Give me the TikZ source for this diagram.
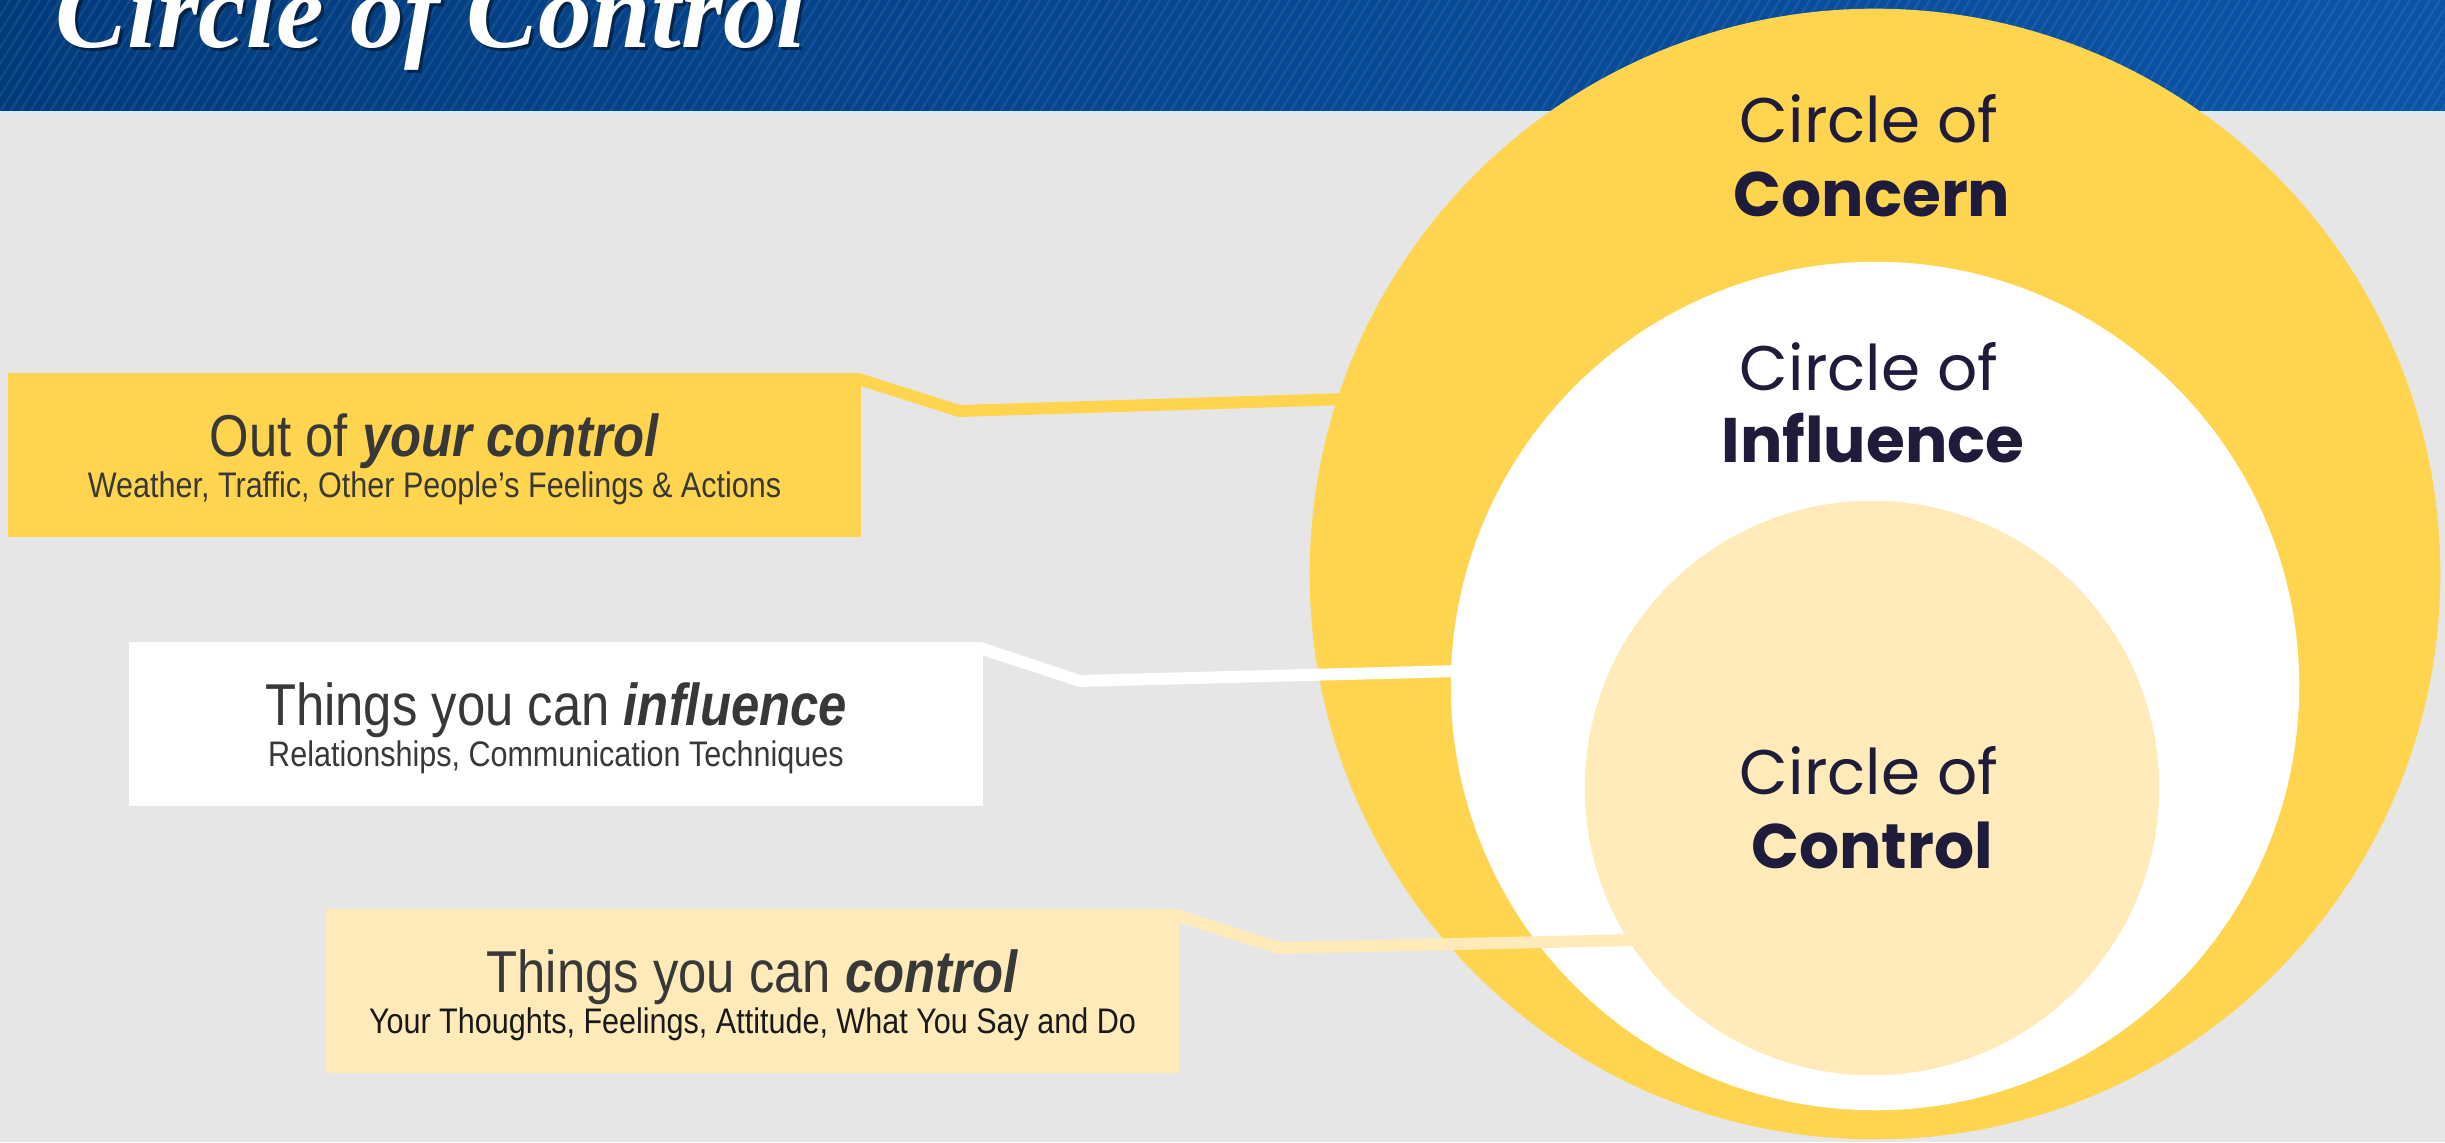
\documentclass[tikz,border=0pt]{standalone}
\usepackage{fontspec}
\setmainfont{Liberation Sans}
\newfontfamily\boxfont[FakeStretch=0.86]{Liberation Sans}
\newfontfamily\ringfont{Poppins}
\newfontfamily\headfont{Liberation Serif}
\usetikzlibrary{positioning}
\definecolor{concernyellow}{HTML}{FFD44F}
\definecolor{controlcream}{HTML}{FFEBBA}
\definecolor{bardark}{HTML}{023B7C}
\definecolor{barlight}{HTML}{0A54A8}
\definecolor{ringink}{HTML}{1E1B3B}
\definecolor{boxink}{HTML}{383838}
\definecolor{backgray}{HTML}{E6E6E6}

\begin{document}
\begin{tikzpicture}[x=0.01cm, y=-0.01cm]
            \tikzset{ring/.style = {shape=circle, inner sep=0pt, outer sep=0pt}}
            \tikzset{ringtop/.style = {anchor=base, inner sep=0pt, text=ringink, font=\ringfont\fontsize{17.9}{20}\selectfont}}
            \tikzset{ringword/.style = {ringtop, font=\ringfont\bfseries\fontsize{17.9}{20}\selectfont}}
            \tikzset{box/.style = {shape=rectangle, minimum width=8.53cm, minimum height=1.64cm, inner sep=0pt, outer sep=0pt}}
            \tikzset{boxhead/.style = {anchor=base, inner sep=0pt, text=boxink, font=\boxfont\fontsize{16.8}{18}\selectfont}}
            \tikzset{boxsub/.style = {anchor=base, inner sep=0pt, text=boxink, font=\boxfont\fontsize{10.1}{12}\selectfont}}
            \tikzset{link/.style = {line width=3.4pt, shorten >=-0.5mm}}
            \tikzset{headline/.style = {anchor=base west, inner sep=0pt, font=\headfont\bfseries\itshape\fontsize{30.5}{34}\selectfont}}
            \useasboundingbox (0,0) rectangle (2445,1142);
            \clip (0,0) rectangle (2445,1142);
            % backdrop
            \fill[backgray] (0,0) rectangle (2445,1142);
            \shade[left color=bardark, right color=barlight] (0,0) rectangle (2445,112);
            \begin{scope}
                \clip (0,0) rectangle (2445,112);
                \foreach \s in {0,10,...,2560}
                    \draw[white, opacity=0.08, line width=0.6pt] (\s-70,112) -- (\s,0);
            \end{scope}
            \draw[white!80!cyan, line width=0.6pt] (0,112) -- (2445,112);
            \node[headline, text=black, opacity=0.45] (titleshade) at (58,50) {Circle of Control};
            \node[headline, text=white] (title) at (55,47) {Circle of Control};
            % circles
            \node[ring, fill=concernyellow, minimum size=11.3cm] (concern) at (1875,574) {};
            \node[ring, fill=white, minimum size=8.48cm] (influence) at (1875,686) {};
            \node[ring, fill=controlcream, minimum size=5.74cm] (control) at (1872,788) {};
            \node[ringtop] (concerntop) at (1869,142) {Circle of};
            \node[ringword] (concernword) at (1872,216) {Concern};
            \node[ringtop] (influencetop) at (1869,390) {Circle of};
            \node[ringword] (influenceword) at (1873,462) {Influence};
            \node[ringtop] (controltop) at (1869,794) {Circle of};
            \node[ringword] (controlword) at (1872,868) {Control};
            % boxes
            \node[box, fill=concernyellow] (outbox) at (434.5,455) {};
            \node[boxhead] (outhead) at ([yshift=-0.1mm]outbox.center) {Out of \textbf{\textit{your control}}};
            \node[boxsub] (outsub) at ([yshift=-4.2mm]outbox.center) {Weather, Traffic, Other People’s Feelings \& Actions};
            \node[box, fill=white] (influencebox) at (556,724) {};
            \node[boxhead] (influencehead) at ([yshift=-0.1mm]influencebox.center) {Things you can \textbf{\textit{influence}}};
            \node[boxsub] (influencesub) at ([yshift=-4.2mm]influencebox.center) {Relationships, Communication Techniques};
            \node[box, fill=controlcream] (controlbox) at (752.5,991) {};
            \node[boxhead] (controlhead) at ([yshift=-0.1mm]controlbox.center) {Things you can \textbf{\textit{control}}};
            \node[boxsub, text=black!90] (controlsub) at ([yshift=-4.2mm]controlbox.center) {Your Thoughts, Feelings, Attitude, What You Say and Do};
            % edges
            \draw[link, draw=concernyellow] ([xshift=-0.3mm, yshift=-0.6mm]outbox.north east) -- ++(101,32) -- (concern.162.6);
            \draw[link, draw=white] ([xshift=-0.3mm, yshift=-0.6mm]influencebox.north east) -- ++(100,33) -- (influence.178.6);
            \draw[link, draw=controlcream] ([xshift=-0.3mm, yshift=-0.6mm]controlbox.north east) -- ++(102,33) -- (control.212.2);
        \end{tikzpicture}
\end{document}
